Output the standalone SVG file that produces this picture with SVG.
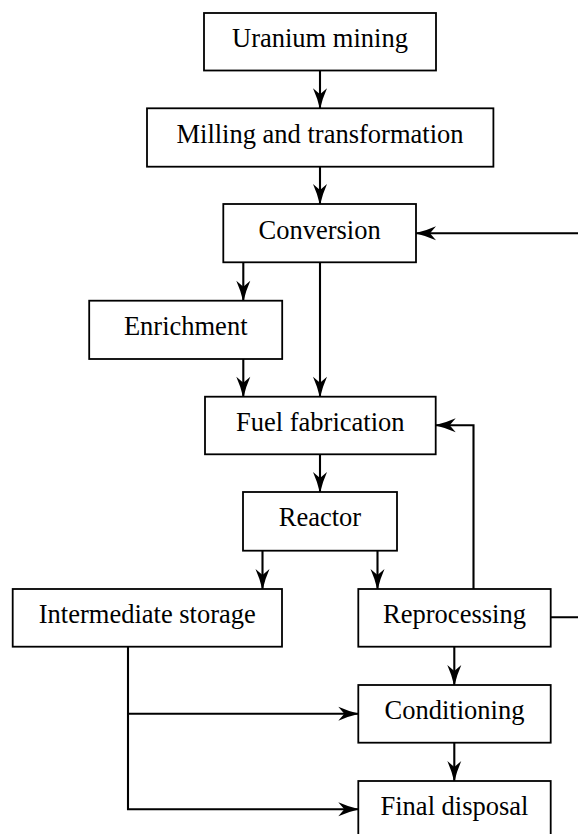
<svg xmlns="http://www.w3.org/2000/svg" width="578" height="834" viewBox="0 0 578 834">
<style>
.box{fill:#fff;stroke:#000;stroke-width:1.8}
.lbl{font-family:"Liberation Serif","Times New Roman",serif;font-size:26.5px;fill:#000;text-anchor:middle}
.con{fill:none;stroke:#000;stroke-width:2.1}
.arr{marker-end:url(#ah)}
</style>
<defs>
<marker id="ah" markerUnits="userSpaceOnUse" viewBox="-22 -9 24 18" markerWidth="24" markerHeight="18" refX="0" refY="0" orient="auto" overflow="visible">
<path d="M1,0 Q-10,-2.5 -20,-7 L-14,0 L-20,7 Q-10,2.5 1,0 Z" fill="#000"/>
</marker>
</defs>
<rect width="578" height="834" fill="#fff"/>
<g id="connectors">
<path class="con arr" d="M320,70.5 V108.3"/>
<path class="con arr" d="M320,166.7 V204"/>
<path class="con arr" d="M243.3,262.3 V300.7"/>
<path class="con arr" d="M320,262.3 V396.7"/>
<path class="con arr" d="M243.3,359 V396.7"/>
<path class="con arr" d="M320,454.3 V492"/>
<path class="con arr" d="M262.5,550.7 V589"/>
<path class="con arr" d="M377.5,550.7 V589"/>
<path class="con arr" d="M473.5,589 V425.3 H435.7"/>
<path class="con arr" d="M550.7,617.3 H590 V233.3 H416"/>
<path class="con arr" d="M454.3,646.7 V685"/>
<path class="con arr" d="M454.3,742.7 V781"/>
<path class="con arr" d="M128,646.7 V809.3 H358.3"/>
<path class="con arr" d="M128,713.7 H358.3"/>
</g>
<g id="uranium-mining"><rect class="box" x="204" y="13" width="232" height="57.5"/><text class="lbl" x="320" y="47">Uranium mining</text></g>
<g id="milling"><rect class="box" x="147" y="108.3" width="346.4" height="58.4"/><text class="lbl" x="320" y="143">Milling and transformation</text></g>
<g id="conversion"><rect class="box" x="223.3" y="204" width="192.7" height="58.3"/><text class="lbl" x="319.6" y="239">Conversion</text></g>
<g id="enrichment"><rect class="box" x="89.2" y="300.7" width="193" height="58.3"/><text class="lbl" x="185.7" y="335">Enrichment</text></g>
<g id="fuel-fabrication"><rect class="box" x="205" y="396.7" width="230.7" height="57.6"/><text class="lbl" x="320.3" y="431">Fuel fabrication</text></g>
<g id="reactor"><rect class="box" x="243" y="492" width="154" height="58.7"/><text class="lbl" x="320" y="526">Reactor</text></g>
<g id="intermediate-storage"><rect class="box" x="12.7" y="589" width="269.3" height="57.7"/><text class="lbl" x="147.3" y="623">Intermediate storage</text></g>
<g id="reprocessing"><rect class="box" x="358.3" y="589" width="192.4" height="57.7"/><text class="lbl" x="454.5" y="623">Reprocessing</text></g>
<g id="conditioning"><rect class="box" x="358.3" y="685" width="192.4" height="57.7"/><text class="lbl" x="454.5" y="719">Conditioning</text></g>
<g id="final-disposal"><rect class="box" x="358.3" y="781" width="192.4" height="62"/><text class="lbl" x="454.5" y="815">Final disposal</text></g>
</svg>
